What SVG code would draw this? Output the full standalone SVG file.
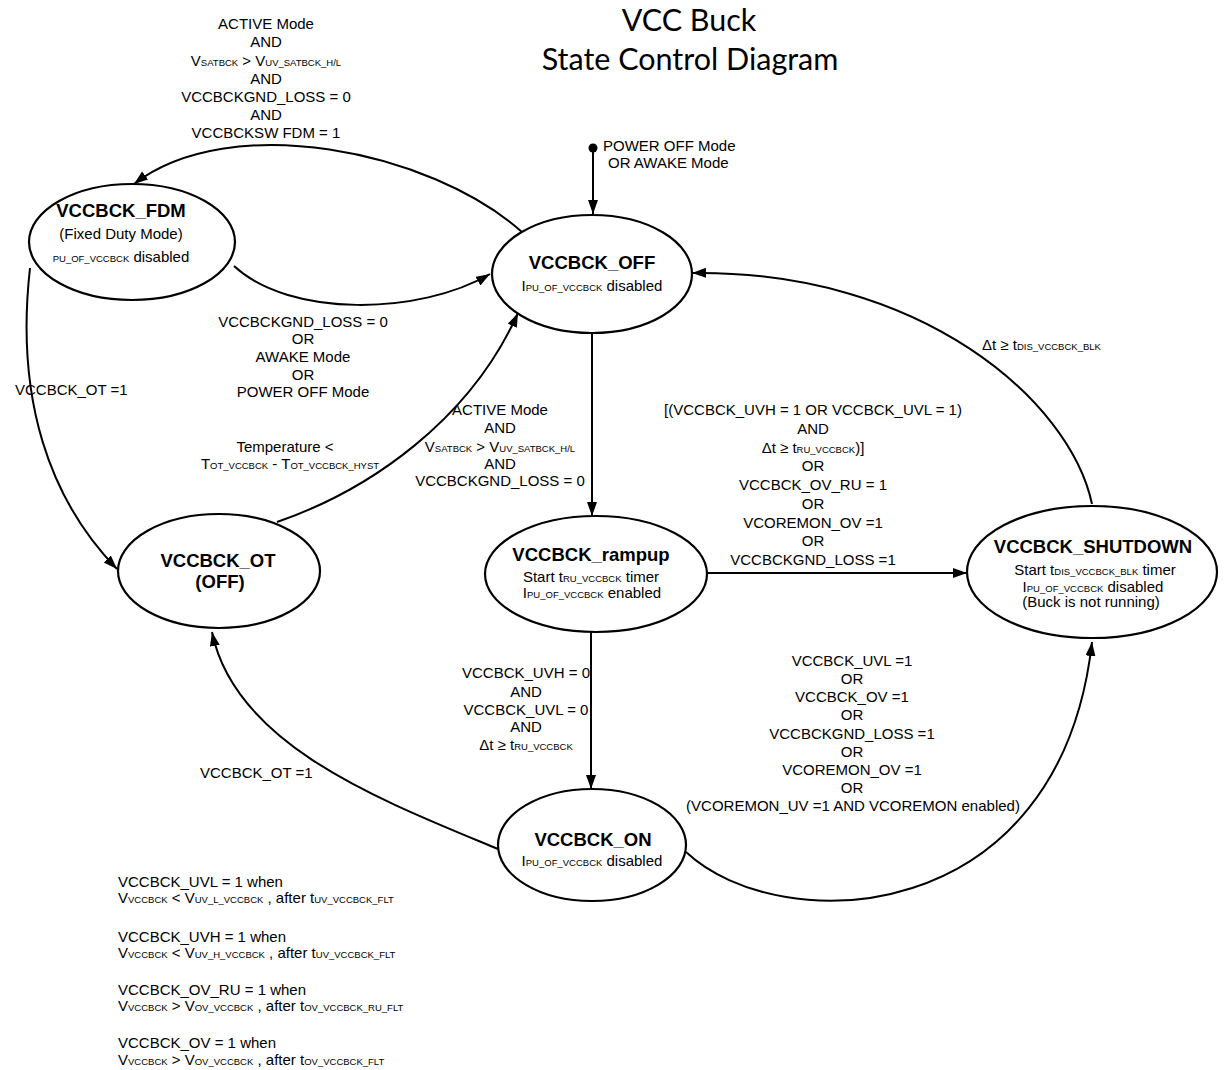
<svg xmlns="http://www.w3.org/2000/svg" width="1227" height="1070" viewBox="0 0 1227 1070">
  <defs>
    <marker id="arrow" markerUnits="userSpaceOnUse" markerWidth="16" markerHeight="12" refX="14" refY="5" orient="auto">
      <path d="M0,0 L14,5 L0,10 z" fill="#000"/>
    </marker>
    <style>
      text { font-family: "Liberation Sans", Arial, sans-serif; font-size: 15px; fill: #000; }
      .c { text-anchor: middle; }
      .s { font-size: 9.5px; }
      .b { font-weight: bold; font-size: 18.5px; }
      .title { font-family: Lato, "Open Sans", sans-serif; font-size: 30.5px; text-anchor: middle; }
      .node { fill: #fff; stroke: #000; stroke-width: 2.2; }
      .edge { fill: none; stroke: #000; stroke-width: 2; marker-end: url(#arrow); }
    </style>
  </defs>
  <rect width="1227" height="1070" fill="#fff"/>

  <!-- title -->
  <g id="title">
    <text class="title" x="689" y="31">VCC Buck</text>
    <text class="title" x="690" y="70">State Control Diagram</text>
  </g>

  <!-- transitions -->
  <g id="connectors">
    <circle cx="593" cy="148" r="4.5" fill="#000"/>
    <path class="edge" d="M593,148 L593,214"/>
    <path class="edge" d="M522,232 C430,150 230,110 134,184"/>
    <path class="edge" d="M234,266 C290,318 420,315 490,274"/>
    <path class="edge" d="M277,522 C370,490 470,420 518,313"/>
    <path class="edge" d="M30,268 C15,400 50,500 117,569"/>
    <path class="edge" d="M592,333 L592,516"/>
    <path class="edge" d="M706,573 L967,573"/>
    <path class="edge" d="M591,632 L591,789"/>
    <path class="edge" d="M1092,504 C1070,400 920,270 692,273"/>
    <path class="edge" d="M686,852 C780,940 1060,930 1092,642"/>
    <path class="edge" d="M498,849 C380,800 235,745 212,632"/>
  </g>

  <!-- states -->
  <g id="vccbck_fdm">
    <ellipse class="node" cx="132" cy="242" rx="103" ry="58"/>
    <text class="c b" x="121" y="217">VCCBCK_FDM</text>
    <text class="c" x="121" y="239">(Fixed Duty Mode)</text>
    <text class="c" x="121" y="262"><tspan class="s">PU_OF_VCCBCK</tspan> disabled</text>
  </g>
  <g id="vccbck_off">
    <ellipse class="node" cx="592" cy="274" rx="100" ry="59"/>
    <text class="c b" x="592" y="269">VCCBCK_OFF</text>
    <text class="c" x="592" y="291">I<tspan class="s">PU_OF_VCCBCK</tspan> disabled</text>
  </g>
  <g id="vccbck_rampup">
    <ellipse class="node" cx="596" cy="574" rx="111" ry="58"/>
    <text class="c b" x="591" y="561">VCCBCK_rampup</text>
    <text class="c" x="591" y="582">Start t<tspan class="s">RU_VCCBCK</tspan> timer</text>
    <text class="c" x="592" y="598">I<tspan class="s">PU_OF_VCCBCK</tspan> enabled</text>
  </g>
  <g id="vccbck_ot">
    <ellipse class="node" cx="219" cy="571" rx="101" ry="57"/>
    <text class="c b" x="218" y="567">VCCBCK_OT</text>
    <text class="c b" x="220" y="588">(OFF)</text>
  </g>
  <g id="vccbck_shutdown">
    <ellipse class="node" cx="1092" cy="572" rx="125" ry="66"/>
    <text class="c b" x="1093" y="553">VCCBCK_SHUTDOWN</text>
    <text class="c" x="1095" y="575">Start t<tspan class="s">DIS_VCCBCK_BLK</tspan> timer</text>
    <text class="c" x="1093" y="592">I<tspan class="s">PU_OF_VCCBCK</tspan> disabled</text>
    <text class="c" x="1091" y="607">(Buck is not running)</text>
  </g>
  <g id="vccbck_on">
    <ellipse class="node" cx="592" cy="845" rx="94" ry="56"/>
    <text class="c b" x="593" y="846">VCCBCK_ON</text>
    <text class="c" x="592" y="866">I<tspan class="s">PU_OF_VCCBCK</tspan> disabled</text>
  </g>

  <!-- transition conditions -->
  <g id="edge-labels">
    <text class="c" x="266" y="29">ACTIVE Mode</text>
    <text class="c" x="266" y="47">AND</text>
    <text class="c" x="266" y="66">V<tspan class="s">SATBCK</tspan> &gt; V<tspan class="s">UV_SATBCK_H/L</tspan></text>
    <text class="c" x="266" y="84">AND</text>
    <text class="c" x="266" y="102">VCCBCKGND_LOSS = 0</text>
    <text class="c" x="266" y="120">AND</text>
    <text class="c" x="266" y="138">VCCBCKSW FDM = 1</text>

    <text x="603" y="151">POWER OFF Mode</text>
    <text x="608" y="168">OR AWAKE Mode</text>

    <text class="c" x="303" y="327">VCCBCKGND_LOSS = 0</text>
    <text class="c" x="303" y="344">OR</text>
    <text class="c" x="303" y="362">AWAKE Mode</text>
    <text class="c" x="303" y="380">OR</text>
    <text class="c" x="303" y="397">POWER OFF Mode</text>

    <text x="15" y="395">VCCBCK_OT =1</text>

    <text class="c" x="285" y="452">Temperature &lt;</text>
    <text class="c" x="290" y="469">T<tspan class="s">OT_VCCBCK</tspan> - T<tspan class="s">OT_VCCBCK_HYST</tspan></text>

    <text class="c" x="500" y="415">ACTIVE Mode</text>
    <text class="c" x="500" y="433">AND</text>
    <text class="c" x="500" y="452">V<tspan class="s">SATBCK</tspan> &gt; V<tspan class="s">UV_SATBCK_H/L</tspan></text>
    <text class="c" x="500" y="469">AND</text>
    <text class="c" x="500" y="486">VCCBCKGND_LOSS = 0</text>

    <text x="982" y="350">Δt ≥ t<tspan class="s">DIS_VCCBCK_BLK</tspan></text>

    <text class="c" x="813" y="415">[(VCCBCK_UVH = 1 OR VCCBCK_UVL = 1)</text>
    <text class="c" x="813" y="434">AND</text>
    <text class="c" x="813" y="453">Δt ≥ t<tspan class="s">RU_VCCBCK</tspan>)]</text>
    <text class="c" x="813" y="471">OR</text>
    <text class="c" x="813" y="490">VCCBCK_OV_RU = 1</text>
    <text class="c" x="813" y="509">OR</text>
    <text class="c" x="813" y="528">VCOREMON_OV =1</text>
    <text class="c" x="813" y="546">OR</text>
    <text class="c" x="813" y="565">VCCBCKGND_LOSS =1</text>

    <text class="c" x="526" y="678">VCCBCK_UVH = 0</text>
    <text class="c" x="526" y="697">AND</text>
    <text class="c" x="526" y="715">VCCBCK_UVL = 0</text>
    <text class="c" x="526" y="732">AND</text>
    <text class="c" x="526" y="750">Δt ≥ t<tspan class="s">RU_VCCBCK</tspan></text>

    <text class="c" x="852" y="666">VCCBCK_UVL =1</text>
    <text class="c" x="852" y="684">OR</text>
    <text class="c" x="852" y="702">VCCBCK_OV =1</text>
    <text class="c" x="852" y="720">OR</text>
    <text class="c" x="852" y="739">VCCBCKGND_LOSS =1</text>
    <text class="c" x="852" y="757">OR</text>
    <text class="c" x="852" y="775">VCOREMON_OV =1</text>
    <text class="c" x="852" y="793">OR</text>
    <text class="c" x="853" y="811">(VCOREMON_UV =1 AND VCOREMON enabled)</text>

    <text x="200" y="778">VCCBCK_OT =1</text>
  </g>

  <!-- flag definitions -->
  <g id="notes">
    <text x="118" y="887">VCCBCK_UVL = 1 when</text>
    <text x="118" y="903">V<tspan class="s">VCCBCK</tspan> &lt; V<tspan class="s">UV_L_VCCBCK</tspan> , after t<tspan class="s">UV_VCCBCK_FLT</tspan></text>
    <text x="118" y="942">VCCBCK_UVH = 1 when</text>
    <text x="118" y="958">V<tspan class="s">VCCBCK</tspan> &lt; V<tspan class="s">UV_H_VCCBCK</tspan> , after t<tspan class="s">UV_VCCBCK_FLT</tspan></text>
    <text x="118" y="995">VCCBCK_OV_RU = 1 when</text>
    <text x="118" y="1011">V<tspan class="s">VCCBCK</tspan> &gt; V<tspan class="s">OV_VCCBCK</tspan> , after t<tspan class="s">OV_VCCBCK_RU_FLT</tspan></text>
    <text x="118" y="1048">VCCBCK_OV = 1 when</text>
    <text x="118" y="1065">V<tspan class="s">VCCBCK</tspan> &gt; V<tspan class="s">OV_VCCBCK</tspan> , after t<tspan class="s">OV_VCCBCK_FLT</tspan></text>
  </g>
</svg>
